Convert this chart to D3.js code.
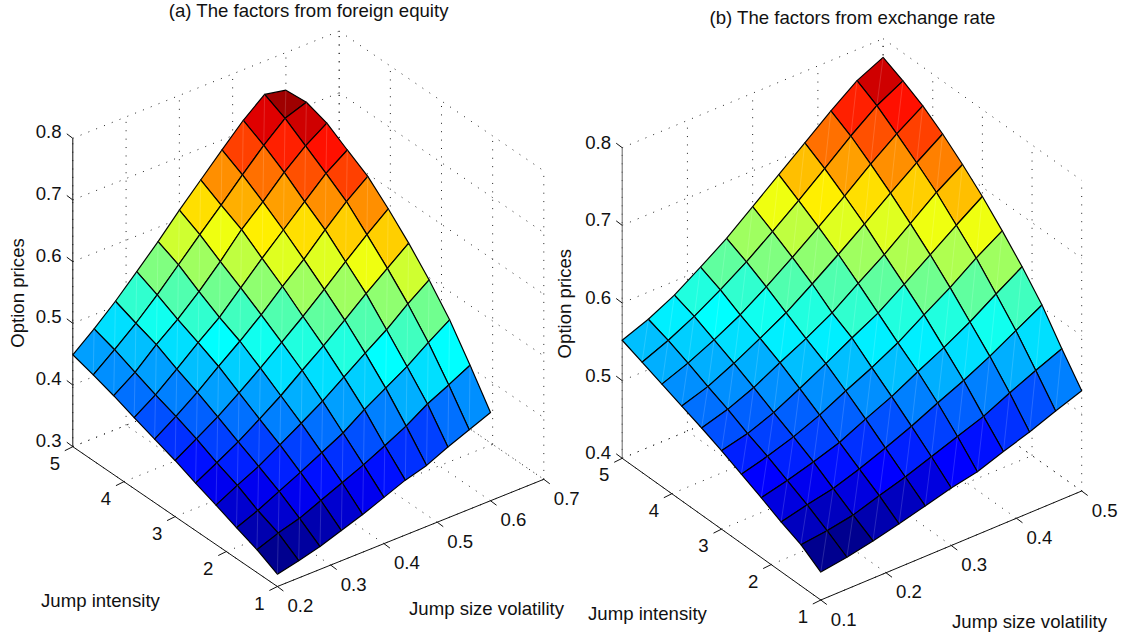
<!DOCTYPE html>
<html>
<head>
<meta charset="utf-8">
<script src="https://cdn.jsdelivr.net/npm/d3@7"></script>
<style>
  body { margin: 0; background: #fff; }
  text { font-family: "Liberation Sans", Arial, sans-serif; fill: #111; font-size: 18.6px; }
</style>
</head>
<body>
<div id="chart"></div>
<script>
// grid of the surfaces
var intensities = [1, 1.4, 1.8, 2.2, 2.6, 3, 3.4, 3.8, 4.2, 4.6, 5];
var volsA = [0.2, 0.24, 0.28, 0.32, 0.36, 0.4, 0.44, 0.48, 0.52, 0.56, 0.6];
var volsB = [0.1, 0.14, 0.18, 0.22, 0.26, 0.3, 0.34, 0.38, 0.42, 0.46, 0.5];

// option prices, one row per intensity
var pricesA = [
  [.320,.328,.337,.349,.361,.375,.389,.399,.415,.429,.443],
  [.337,.350,.360,.375,.390,.405,.422,.440,.462,.479,.497],
  [.350,.364,.381,.398,.416,.434,.458,.479,.500,.525,.548],
  [.364,.382,.399,.420,.441,.463,.488,.513,.537,.565,.590],
  [.377,.396,.416,.439,.463,.490,.516,.544,.573,.600,.627],
  [.391,.412,.434,.459,.485,.513,.541,.571,.602,.632,.660],
  [.403,.426,.451,.479,.506,.535,.567,.597,.631,.663,.690],
  [.415,.438,.466,.495,.522,.556,.590,.622,.654,.686,.710],
  [.428,.452,.483,.510,.541,.576,.614,.645,.679,.708,.731],
  [.439,.466,.495,.527,.562,.597,.631,.666,.700,.730,.742],
  [.449,.477,.508,.542,.577,.614,.649,.684,.718,.746,.739]
];
var pricesB = [
  [.436,.441,.448,.456,.465,.474,.481,.493,.504,.517,.529],
  [.453,.457,.463,.474,.484,.496,.508,.520,.536,.551,.565],
  [.464,.472,.479,.490,.503,.517,.533,.548,.565,.584,.603],
  [.477,.485,.495,.506,.522,.537,.555,.572,.591,.613,.634],
  [.489,.498,.509,.523,.540,.556,.574,.596,.617,.641,.662],
  [.501,.509,.522,.539,.557,.576,.594,.617,.641,.665,.688],
  [.512,.522,.536,.554,.571,.590,.614,.637,.663,.689,.711],
  [.522,.533,.549,.567,.586,.609,.633,.658,.684,.709,.732],
  [.532,.545,.561,.579,.601,.625,.650,.676,.703,.728,.750],
  [.542,.556,.573,.593,.615,.640,.666,.693,.721,.746,.764],
  [.552,.565,.582,.604,.627,.654,.681,.708,.735,.760,.776]
];

// tick labels
var intTicks = [1, 2, 3, 4, 5];
var volTicksA = [0.2, 0.3, 0.4, 0.5, 0.6, 0.7];
var volTicksB = [0.1, 0.2, 0.3, 0.4, 0.5];
var zTicksA = [0.3, 0.4, 0.5, 0.6, 0.7, 0.8];
var zTicksB = [0.4, 0.5, 0.6, 0.7, 0.8];

// jet(64)
function clip(v) { return Math.max(0, Math.min(1, v)); }
var jet = d3.range(64).map(function(k) {
  var t = (k + 1) / 64;
  return d3.rgb(
    255 * clip(1.5 - Math.abs(4 * t - 3)),
    255 * clip(1.5 - Math.abs(4 * t - 2)),
    255 * clip(1.5 - Math.abs(4 * t - 1))
  ).formatHex();
});

var fmt = d3.format(".1f");

var svg = d3.select("#chart").append("svg")
  .attr("width", 1124)
  .attr("height", 639);

function build_panel(p) {
  var g = svg.append("g");
  var zs = p.prices;
  var volMin = p.volTicks[0], volMax = p.volTicks[p.volTicks.length - 1];
  var intMin = intTicks[0], intMax = intTicks[intTicks.length - 1];
  var zMin = p.zTicks[0], zMax = p.zTicks[p.zTicks.length - 1];

  // oblique box: each data axis moves the point along one screen direction
  var volX = d3.scaleLinear().domain([volMin, volMax]).range([p.origin[0], p.right[0]]);
  var volY = d3.scaleLinear().domain([volMin, volMax]).range([0, p.right[1] - p.origin[1]]);
  var intX = d3.scaleLinear().domain([intMin, intMax]).range([0, p.left[0] - p.origin[0]]);
  var intY = d3.scaleLinear().domain([intMin, intMax]).range([p.origin[1], p.left[1]]);
  var zY = d3.scaleLinear().domain([zMin, zMax]).range([0, -p.zHeight]);

  function project(v, n, z) {
    return [volX(v) + intX(n), volY(v) + intY(n) + zY(z)];
  }

  var color = d3.scaleQuantize()
    .domain([d3.min(zs, function(r) { return d3.min(r); }), d3.max(zs, function(r) { return d3.max(r); })])
    .range(jet);

  function grid(a, b) {
    g.append("path")
      .attr("d", d3.line()([a, b]))
      .attr("fill", "none")
      .attr("stroke", "#222")
      .attr("stroke-width", 1)
      .attr("stroke-dasharray", "1 7.4");
  }
  function axis(a, b, col) {
    g.append("path")
      .attr("d", d3.line()([a, b]))
      .attr("fill", "none")
      .attr("stroke", col || "#111")
      .attr("stroke-width", 1);
  }

  // grid on floor and back walls
  p.volTicks.forEach(function(v) {
    grid(project(v, intMin, zMin), project(v, intMax, zMin));
    grid(project(v, intMax, zMin), project(v, intMax, zMax));
  });
  intTicks.forEach(function(n) {
    grid(project(volMin, n, zMin), project(volMax, n, zMin));
    grid(project(volMax, n, zMin), project(volMax, n, zMax));
  });
  p.zTicks.forEach(function(z) {
    grid(project(volMin, intMax, z), project(volMax, intMax, z));
    grid(project(volMax, intMax, z), project(volMax, intMin, z));
  });

  // solid axes
  axis(project(volMin, intMax, zMin), project(volMin, intMax, zMax), p.zAxisColor);
  axis(project(volMin, intMin, zMin), project(volMin, intMax, zMin));
  axis(project(volMin, intMin, zMin), project(volMax, intMin, zMin));

  p.zTicks.forEach(function(z) {
    var q = project(volMin, intMax, z);
    axis(q, [q[0] - 6, q[1] - 4.5]);
    g.append("text")
      .attr("x", p.zLabelX)
      .attr("y", q[1] - p.zLabelUp)
      .attr("dy", "0.35em")
      .attr("text-anchor", "end")
      .text(fmt(z));
  });
  intTicks.forEach(function(n) {
    var q = project(volMin, n, zMin);
    axis(q, [q[0] - 8, q[1] + 4]);
    g.append("text")
      .attr("x", q[0] - 18)
      .attr("y", q[1] + 16.5)
      .attr("dy", "0.35em")
      .attr("text-anchor", "middle")
      .text(n);
  });
  p.volTicks.forEach(function(v) {
    var q = project(v, intMin, zMin);
    axis(q, [q[0] + 6, q[1] + 4.5]);
    g.append("text")
      .attr("x", q[0] + 23)
      .attr("y", q[1] + 19)
      .attr("dy", "0.35em")
      .attr("text-anchor", "middle")
      .text(fmt(v));
  });

  // surface, back cells first
  var cells = [];
  d3.range(10).forEach(function(j) {
    d3.range(10).forEach(function(i) {
      cells.push({i: i, j: j});
    });
  });
  cells.sort(function(a, b) { return (b.i + b.j) - (a.i + a.j); });

  function vertex(i, j) { return project(p.vols[i], intensities[j], zs[j][i]); }

  cells.forEach(function(c) {
    var i = c.i, j = c.j;
    var quad = [vertex(i, j), vertex(i + 1, j), vertex(i + 1, j + 1), vertex(i, j + 1)];
    g.append("path")
      .attr("d", d3.line()(quad) + "Z")
      .attr("fill", color(zs[j][i]))
      .attr("stroke", "#000")
      .attr("stroke-width", 1.2)
      .attr("stroke-linejoin", "round");
    // light seam where the renderer split the cell
    g.append("path")
      .attr("d", d3.line()([quad[0], quad[2]]))
      .attr("stroke", "#fff")
      .attr("stroke-opacity", 0.22)
      .attr("stroke-width", 0.7);
  });

  // text
  g.append("text")
    .attr("x", p.title[0])
    .attr("y", p.title[1])
    .attr("text-anchor", "middle")
    .text(p.titleText);
  g.append("text")
    .attr("transform", "translate(" + p.zLabel[0] + "," + p.zLabel[1] + ") rotate(-90)")
    .attr("text-anchor", "middle")
    .text("Option prices");
  g.append("text")
    .attr("x", p.intLabel[0])
    .attr("y", p.intLabel[1])
    .text("Jump intensity");
  g.append("text")
    .attr("x", p.volLabel[0])
    .attr("y", p.volLabel[1])
    .text("Jump size volatility");
}

build_panel({
  titleText: "(a) The factors from foreign equity",
  prices: pricesA, vols: volsA, volTicks: volTicksA, zTicks: zTicksA,
  origin: [277.4, 586.5], left: [72.8, 446.7], right: [543.8, 479.3], zHeight: 308.4,
  zLabelX: 61.5, zLabelUp: 6.5, zAxisColor: "#111",
  title: [308.6, 16.5], zLabel: [23.5, 293], intLabel: [41, 607], volLabel: [409, 615]
});
build_panel({
  titleText: "(b) The factors from exchange rate",
  prices: pricesB, vols: volsB, volTicks: volTicksB, zTicks: zTicksB,
  origin: [820.8, 600], left: [622.2, 458.3], right: [1081.7, 491], zHeight: 310.6,
  zLabelX: 611, zLabelUp: 5.6, zAxisColor: "#666",
  title: [852.5, 24], zLabel: [570.7, 303.6], intLabel: [588, 620], volLabel: [952, 628]
});
</script>
</body>
</html>
